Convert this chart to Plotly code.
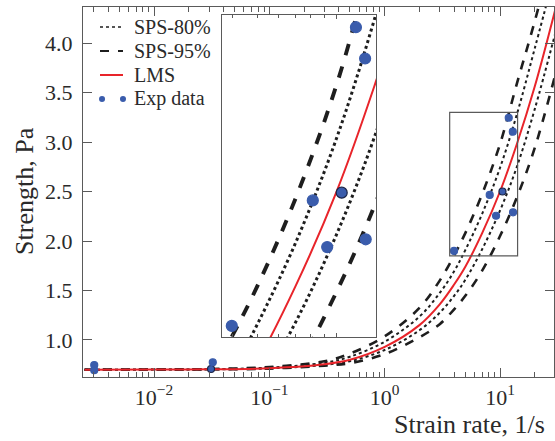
import plotly.graph_objects as go

# ─── Data ──────────────────────────────────────────────────────────────────────
strain_rate = [0.0025, 0.01, 0.03, 0.1, 0.3, 0.5, 1, 2, 3, 4, 5, 7, 10, 14, 20, 30]

lms = [0.700, 0.701, 0.704, 0.715, 0.755, 0.800, 0.930, 1.150, 1.360, 1.560,
       1.740, 2.080, 2.500, 2.980, 3.560, 4.330]
sps80_upper = [0.700, 0.701, 0.705, 0.721, 0.770, 0.831, 0.983, 1.236, 1.475, 1.694,
               1.908, 2.275, 2.740, 3.280, 3.945, 4.720]
sps80_lower = [0.700, 0.701, 0.703, 0.713, 0.749, 0.786, 0.899, 1.098, 1.275, 1.446,
               1.608, 1.917, 2.308, 2.750, 3.332, 4.090]
sps95_upper = [0.700, 0.702, 0.706, 0.727, 0.785, 0.863, 1.037, 1.324, 1.600, 1.854,
               2.080, 2.475, 2.980, 3.590, 4.220, 5.000]
sps95_lower = [0.700, 0.700, 0.703, 0.711, 0.741, 0.766, 0.858, 1.027, 1.160, 1.310,
               1.446, 1.700, 2.050, 2.440, 2.940, 3.670]

exp_x = [0.00303, 0.00303, 0.0312, 0.0323, 3.99, 8.14, 9.24, 10.5, 11.9, 12.9, 12.97]
exp_y = [0.747, 0.695, 0.707, 0.775, 1.90, 2.465, 2.255, 2.50, 3.245, 3.104, 2.29]
exp_outlined = [False, False, True, False, False, False, False, True, False, False, False]

x_tickvals = [0.01, 0.1, 1, 10]
x_ticktext = ["10<sup>\u22122</sup>", "10<sup>\u22121</sup>", "10<sup>0</sup>", "10<sup>1</sup>"]
y_tickvals = [1.0, 1.5, 2.0, 2.5, 3.0, 3.5, 4.0]

legend_names = ["SPS-80%", "SPS-95%", "LMS", "Exp data"]

# zoom window (strain rate, strength)
zoom_x = [3.66, 14.2]
zoom_y = [1.85, 3.30]

# ─── Styles ────────────────────────────────────────────────────────────────────
FONT = "Liberation Serif"
RED = "#E8242A"
BLUE = "#3A5CAC"
BLACK = "#1E1E1E"
FRAME = "#5A5A5A"
TEXT = "#2A2A2A"

marker_lines = ["#1B2547" if o else BLUE for o in exp_outlined]

fig = go.Figure()


def add_curves(xa, ya, scale):
    w_dash = 2.6 * scale
    w_dot = 2.0 * scale
    for ys in [sps80_upper, sps80_lower]:
        fig.add_trace(go.Scatter(
            x=strain_rate, y=ys, mode="lines", xaxis=xa, yaxis=ya,
            line=dict(color=BLACK, width=w_dot, dash="dot", shape="spline"),
            name="SPS-80%",
        ))
    for ys in [sps95_upper, sps95_lower]:
        fig.add_trace(go.Scatter(
            x=strain_rate, y=ys, mode="lines", xaxis=xa, yaxis=ya,
            line=dict(color=BLACK, width=w_dash, dash="dash", shape="spline"),
            name="SPS-95%",
        ))
    fig.add_trace(go.Scatter(
        x=strain_rate, y=lms, mode="lines", xaxis=xa, yaxis=ya,
        line=dict(color=RED, width=2.0, shape="spline"),
        name="LMS",
    ))
    fig.add_trace(go.Scatter(
        x=exp_x, y=exp_y, mode="markers", xaxis=xa, yaxis=ya,
        marker=dict(color=BLUE, size=7 if scale == 1 else 11,
                    line=dict(color=marker_lines, width=1.2)),
        name="Exp data",
    ))


add_curves("x", "y", 1.0)
add_curves("x2", "y2", 1.5)

# zoom rectangle on the main axes
fig.add_shape(
    type="rect", xref="x", yref="y",
    x0=zoom_x[0], x1=zoom_x[1], y0=zoom_y[0], y1=zoom_y[1],
    line=dict(color=FRAME, width=1.2),
)

# ─── Hand-made legend (two dots for Exp data, as in the original) ──────────────
rows_y = [0.9459, 0.8811, 0.8162, 0.7514]
lx0, lx1, tx = 0.0361, 0.0849, 0.104
fig.add_shape(type="line", xref="paper", yref="paper", x0=lx0, x1=lx1,
              y0=rows_y[0], y1=rows_y[0], line=dict(color=BLACK, width=1.5, dash="dot"))
fig.add_shape(type="line", xref="paper", yref="paper", x0=lx0, x1=lx1,
              y0=rows_y[1], y1=rows_y[1], line=dict(color=BLACK, width=2.2, dash="dash"))
fig.add_shape(type="line", xref="paper", yref="paper", x0=lx0, x1=lx1,
              y0=rows_y[2], y1=rows_y[2], line=dict(color=RED, width=2))
for cx in [0.0404, 0.0849]:
    fig.add_shape(type="circle", xref="paper", yref="paper",
                  x0=cx - 0.0064, x1=cx + 0.0064,
                  y0=rows_y[3] - 0.0081, y1=rows_y[3] + 0.0081,
                  line=dict(width=0), fillcolor=BLUE)

annotations = [
    dict(text=name, xref="paper", yref="paper", x=tx, y=yy,
         xanchor="left", yanchor="middle", showarrow=False,
         font=dict(size=20, family=FONT, color=TEXT))
    for name, yy in zip(legend_names, rows_y)
]
annotations += [
    dict(text="Strain rate, 1/s", xref="paper", yref="paper",
         x=0.985, y=-0.1297, xanchor="right", yanchor="middle",
         showarrow=False, font=dict(size=26, family=FONT, color=TEXT)),
    dict(text="Strength, Pa", xref="paper", yref="paper",
         x=-0.1231, y=0.503, xanchor="center", yanchor="middle",
         textangle=-90, showarrow=False, font=dict(size=26, family=FONT, color=TEXT)),
]

axis_common = dict(
    showline=True, linecolor=FRAME, linewidth=1.2, mirror="allticks",
    ticks="inside", tickcolor=FRAME, showgrid=False, zeroline=False,
    automargin=False,
)

fig.update_layout(
    template="none",
    width=555, height=441,
    paper_bgcolor="white", plot_bgcolor="white",
    margin=dict(l=83, r=1, t=7, b=64),
    font=dict(family=FONT, color=TEXT, size=22),
    showlegend=False,
    xaxis=dict(
        **axis_common, type="log", range=[-2.616, 1.468],
        tickvals=x_tickvals, ticktext=x_ticktext,
        ticklen=9, tickwidth=1.2,
        minor=dict(ticks="inside", ticklen=5, tickcolor=FRAME, dtick="D1"),
        tickfont=dict(size=22, family=FONT, color=TEXT),
    ),
    yaxis=dict(
        **axis_common, range=[0.626, 4.364],
        tickvals=y_tickvals, tickformat=".1f", ticklabelstandoff=5,
        ticklen=9, tickwidth=1.2, tickfont=dict(size=22, family=FONT, color=TEXT),
    ),
    xaxis2=dict(
        **axis_common, type="log", anchor="y2",
        domain=[0.2951, 0.6221], range=[0.5635, 1.1523],
        showticklabels=False, dtick=1, ticklen=4,
        minor=dict(ticks="inside", ticklen=3, tickcolor=FRAME, dtick="D1"),
    ),
    yaxis2=dict(
        **axis_common, anchor="x2",
        domain=[0.1081, 0.9784], range=zoom_y,
        showticklabels=False, ticklen=0,
    ),
    annotations=annotations,
)

# drop the browser's default 8px body margin so the figure fills the window
fig.write_html(
    "out.html",
    config={"displayModeBar": False},
    post_script="document.body.style.margin='0';document.body.style.overflow='hidden';",
)
